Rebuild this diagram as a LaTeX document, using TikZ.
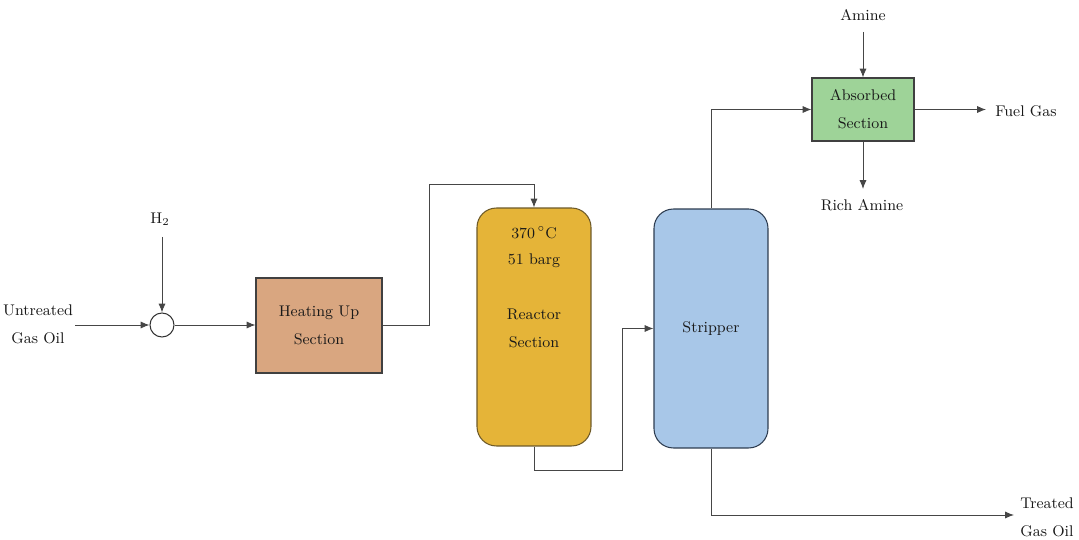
\documentclass[tikz,border=0pt]{standalone}
\usetikzlibrary{arrows.meta}
\definecolor{heatfill}{RGB}{217,166,128}
\definecolor{reacfill}{RGB}{229,180,56}
\definecolor{reacdraw}{RGB}{110,90,40}
\definecolor{stripfill}{RGB}{168,199,232}
\definecolor{stripdraw}{RGB}{45,60,80}
\definecolor{absfill}{RGB}{158,211,152}
\definecolor{linecol}{RGB}{70,70,70}
\tikzset{
  txt/.style={font=\fontsize{8.8}{15.9}\selectfont, text=black!90, align=center, inner sep=1pt},
  block/.style={draw=black!75, line width=0.6pt, txt},
  vessel/.style={rounded corners=11pt, line width=0.6pt, txt},
  pipe/.style={draw=linecol, line width=0.5pt},
  flow/.style={pipe, -{Latex[length=5pt,width=4pt]}},
}
\begin{document}
\begin{tikzpicture}[x=0.02cm,y=-0.02cm]
\path[use as bounding box, fill=white] (0,0) rectangle (1079,540);

% blocks
\node[block, fill=heatfill, minimum width=2.52cm, minimum height=1.9cm] (heat) at (319,325.5) {Heating Up\\Section};
\node[vessel, draw=reacdraw, fill=reacfill, minimum width=2.28cm, minimum height=4.76cm] (reac) at (534,327) {};
\node[vessel, draw=stripdraw, fill=stripfill, minimum width=2.28cm, minimum height=4.78cm] (strip) at (711,328.5) {Stripper};
\node[block, fill=absfill, minimum width=2.04cm, minimum height=1.26cm] (abs) at (863,109.5) {Absorbed\\Section};
\node[draw=black!80, line width=0.6pt, fill=white, circle, minimum size=0.48cm, inner sep=0pt] (mix) at (162,325) {};

% reactor texts
\node[txt] (rt1) at (534,233) {370\,$^\circ$C};
\node[txt] (rt2) at (534,261) {51 barg};
\node[txt] (rt3) at (534,328) {Reactor\\Section};

% labels
\node[txt] (ugo) at (38,324) {Untreated\\Gas Oil};
\node[txt] (h2) at (160,219) {H$_2$};
\node[txt] (amine) at (863,15) {Amine};
\node[txt] (fuel) at (1026,111) {Fuel Gas};
\node[txt] (rich) at (862,205) {Rich Amine};
\node[txt] (tgo) at (1047,517) {Treated\\Gas Oil};

% free ends
\coordinate (uin) at (75,325);
\coordinate (h2in) at (162,237);
\coordinate (amin) at (863,32);
\coordinate (fuelend) at (986,109.5);
\coordinate (richend) at (863,189);
\coordinate (tgoend) at (1014,515);

% connectors
\draw[flow] (uin) -- (mix.west);
\draw[flow] (h2in) -- (mix.north);
\draw[flow] (mix.east) -- (heat.west |- mix.east);
\draw[flow] (heat.east) -| (429,184) -| (reac.north);
\draw[flow] (reac.south) |- (622,470) |- (strip.west);
\draw[flow] (strip.north) |- (abs.west);
\draw[flow] (strip.south) |- (tgoend);
\draw[flow] (amin) -- (abs.north);
\draw[flow] (abs.east) -- (fuelend);
\draw[flow] (abs.south) -- (richend);
\end{tikzpicture}
\end{document}
